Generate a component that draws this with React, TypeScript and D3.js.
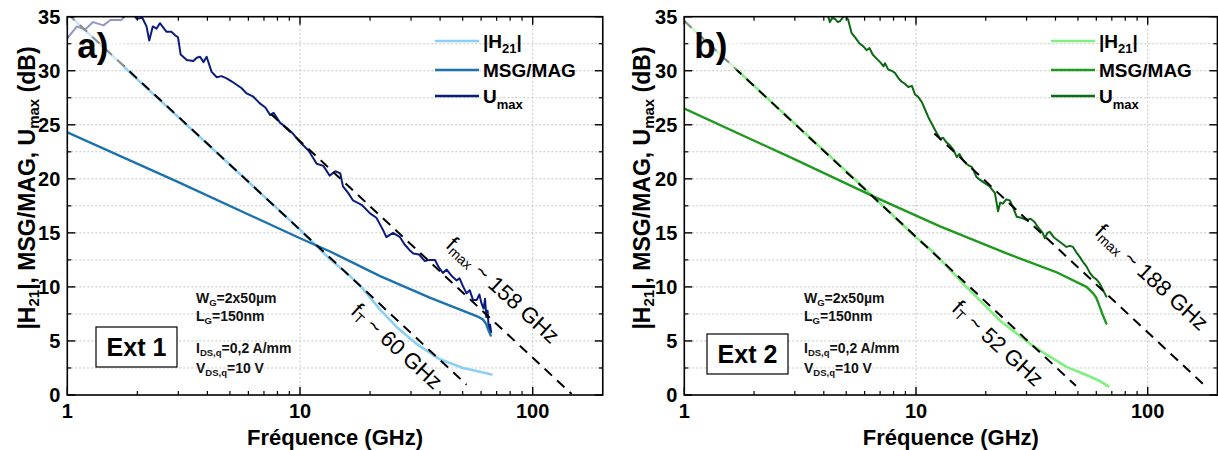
import React from "react";
import * as d3 from "d3";

type P = [number, number];

const xDomain: [number, number] = [1, 200];
const yDomain: [number, number] = [0, 35];
const xMajorTicks = [1, 10, 100];
const yMajorTicks = [0, 5, 10, 15, 20, 25, 30, 35];

// ---------- Panel a) Ext 1 ----------
const h21Left: P[] = [
  [1, 35.3], [2, 29.2], [5, 21.3], [10, 15.3], [13.4, 12.6], [16.4, 11.0], [18.7, 9.8],
  [22.1, 7.9], [26, 6.3], [31.8, 4.7], [39.9, 3.3], [50.2, 2.5], [58, 2.2], [66.6, 1.9],
];
const msgLeft: P[] = [
  [1, 24.3], [3, 19.7], [10, 14.5], [13.4, 13.3], [22.1, 11.0], [36.1, 9.0], [50, 7.8],
  [58.8, 7.2], [61, 7.0], [63, 6.6], [64.5, 6.0], [66, 5.5],
];
const umaxLeft: P[] = [
  [1, 33.0], [1.1, 34.1], [1.19, 33.8], [1.29, 34.5], [1.43, 34.2], [1.53, 34.7], [1.71, 34.7],
  [1.77, 35.1], [1.88, 35.5], [1.99, 34.8], [2.1, 34.9], [2.19, 34.1], [2.25, 32.8], [2.33, 34.1],
  [2.42, 33.9], [2.5, 34.4], [2.67, 33.6], [2.8, 33.6], [2.9, 33.3], [2.99, 33.1], [3.07, 31.5],
  [3.26, 31.0], [3.48, 30.9], [3.6, 31.2], [3.72, 31.3], [3.85, 30.8], [3.97, 31.3], [4.17, 29.9],
  [4.39, 29.4], [4.6, 29.5], [4.84, 29.3], [5.1, 29.0], [5.34, 28.7], [5.6, 28.4], [5.9, 27.9],
  [6.3, 27.6], [6.7, 27.0], [7.1, 26.6], [7.44, 25.9], [7.7, 26.1], [8.2, 25.2], [8.79, 24.7],
  [9.4, 24.1], [10, 23.4], [10.9, 22.6], [11.8, 21.4], [12.6, 21.2], [13.4, 20.3], [14.2, 20.7],
  [14.9, 20.5], [15.3, 19.3], [16.1, 18.7], [16.9, 18.0], [18.4, 17.6], [20, 16.8], [21.3, 16.4],
  [22.7, 15.3], [23.5, 14.6], [25.1, 15.0], [26.9, 14.6], [28.2, 13.9], [29.6, 13.4], [30.7, 13.1],
  [32.5, 13.0], [34.3, 12.4], [36.1, 12.5], [38, 12.5], [39.5, 11.8], [41.1, 11.3], [42.7, 11.6],
  [44.9, 11.0], [47.1, 10.6], [48.5, 10.8], [50.3, 10.0], [52, 9.4], [53.6, 9.7], [55.4, 8.8],
  [57.5, 8.8], [59, 9.3], [60.2, 8.5], [61.5, 8.0], [62.4, 8.9], [63.2, 7.2], [64, 7.8],
  [64.8, 6.0], [65.6, 6.5], [66.3, 5.8],
];
const ftLineLeft: P[] = [[1, 35.3], [52, 0.95]];
const fmaxLineLeft: P[] = [[7.5, 26.0], [147, 0.1]];

// ---------- Panel b) Ext 2 ----------
const h21Right: P[] = [
  [1, 34.6], [2, 28.6], [5, 20.7], [10, 14.6], [11.9, 13.2], [16.5, 10.0], [23, 6.9],
  [32.1, 4.5], [44.6, 2.6], [55, 1.8], [62, 1.3], [67.6, 0.8],
];
const msgRight: P[] = [
  [1, 26.5], [3, 21.8], [6.65, 18.3], [12.7, 15.6], [24.6, 13.1], [40, 11.4], [54.4, 10.0],
  [58.2, 9.4], [60, 9.0], [62, 8.2], [64, 7.4], [66.3, 6.6],
];
const umaxRight: P[] = [
  [4.0, 35.6], [4.18, 35.0], [4.25, 34.5], [4.35, 34.9], [4.47, 34.8], [4.6, 34.5], [4.7, 34.6],
  [4.82, 34.9], [4.94, 35.2], [5.1, 34.7], [5.27, 33.5], [5.5, 33.0], [5.72, 32.5], [5.9, 32.3],
  [6.12, 31.9], [6.3, 32.1], [6.5, 31.5], [6.78, 31.1], [7.0, 30.8], [7.24, 30.4], [7.35, 30.7],
  [7.59, 30.1], [7.85, 30.0], [8.11, 29.8], [8.4, 29.3], [8.66, 29.0], [8.95, 28.8], [9.26, 28.5],
  [9.6, 28.6], [9.9, 27.8], [10.2, 27.6], [10.6, 27.1], [11.0, 26.3], [11.3, 25.7], [11.7, 25.1],
  [12.1, 24.5], [12.7, 23.7], [13.1, 23.8], [13.5, 23.4], [14.0, 23.1], [14.5, 22.7], [15.0, 22.0],
  [15.4, 22.3], [15.7, 22.0], [16.0, 21.7], [16.5, 21.4], [17.0, 21.2], [17.4, 21.1], [17.7, 20.8],
  [18.2, 20.2], [18.9, 19.9], [19.8, 19.6], [20.8, 19.3], [21.3, 19.0], [21.9, 18.7], [22.6, 17.0],
  [23.1, 17.8], [23.7, 17.7], [24.5, 18.1], [25.4, 18.0], [26.3, 17.3], [27.2, 16.5], [28.5, 16.4],
  [29.9, 16.2], [31.2, 16.3], [32.5, 16.0], [33.4, 15.6], [34.3, 15.3], [35.2, 15.0], [36.0, 14.5],
  [36.9, 15.0], [37.8, 15.1], [39.3, 14.6], [41.0, 14.3], [42.8, 14.0], [44.6, 13.7], [46.1, 13.8],
  [47.6, 13.7], [49.2, 13.2], [50.8, 12.8], [52.6, 12.3], [54.4, 11.9], [56.3, 11.3], [58.2, 10.9],
  [60.1, 10.7], [62.1, 10.3], [64.2, 9.7], [66.3, 9.1],
];
const ftLineRight: P[] = [[1, 34.6], [49, 0.85]];
const fmaxLineRight: P[] = [[12, 24.2], [181, 0.65]];

const panels = [
  {
    id: "a",
    tag: "a)",
    ext: "Ext 1",
    x0: 67.3,
    decade: 232.7,
    colors: ["#8ccff5", "#1b72ad", "#0b1b7e"],
    h21: h21Left, msg: msgLeft, umax: umaxLeft,
    ftLine: ftLineLeft, fmaxLine: fmaxLineLeft,
    ftText: "60", fmaxText: "158",
    ftPos: [397, 346], fmaxPos: [503, 290],
    extBox: [96, 327, 81, 40],
    paramX: 196,
    legendX: 435,
    ylabX: 35,
    overlayW: 56,
  },
  {
    id: "b",
    tag: "b)",
    ext: "Ext 2",
    x0: 684.3,
    decade: 231.7,
    colors: ["#7ff07f", "#1f9a1f", "#0b6a12"],
    h21: h21Right, msg: msgRight, umax: umaxRight,
    ftLine: ftLineRight, fmaxLine: fmaxLineRight,
    ftText: "52", fmaxText: "188",
    ftPos: [998, 343], fmaxPos: [1152, 277],
    extBox: [707, 334, 81, 40],
    paramX: 804,
    legendX: 1051,
    ylabX: 650,
    overlayW: 56,
  },
];

const Y0 = 395;
const Y35 = 16.7;
const FONT = "Arial, 'Liberation Sans', Helvetica, sans-serif";

function Panel({ p }: { p: (typeof panels)[number] }) {
  const x = d3.scaleLog().domain(xDomain).range([p.x0, p.x0 + p.decade * Math.log10(200)]);
  const y = d3.scaleLinear().domain(yDomain).range([Y0, Y35]);
  const line = d3.line<P>().x((d) => x(d[0])).y((d) => y(d[1]));
  const xl = x(1), xr = x(200);
  const minorX: number[] = [];
  for (const dec of [1, 10, 100]) for (let k = 2; k <= 9; k++) if (dec * k < 200) minorX.push(dec * k);
  const gridY = d3.range(2.5, 35, 2.5);
  const minorY = d3.range(2.5, 35, 5);
  const clipId = "clip-" + p.id;
  const rot = 42.5;
  return (
    <g fontFamily={FONT}>
      <defs>
        <clipPath id={clipId}>
          <rect x={xl} y={Y35} width={xr - xl} height={Y0 - Y35} />
        </clipPath>
      </defs>
      {gridY.map((v) => (
        <line key={"gy" + v} x1={xl} x2={xr} y1={y(v)} y2={y(v)} stroke="#c4c4c4" strokeWidth={1} strokeDasharray="2,2" />
      ))}
      {[10, 100].map((v) => (
        <line key={"gx" + v} x1={x(v)} x2={x(v)} y1={Y35} y2={Y0} stroke="#c4c4c4" strokeWidth={1} strokeDasharray="2,2" />
      ))}
      <g clipPath={`url(#${clipId})`} fill="none" strokeLinejoin="round" strokeLinecap="round">
        <path d={line(p.h21) || ""} stroke={p.colors[0]} strokeWidth={2.6} />
        <path d={line(p.umax) || ""} stroke={p.colors[2]} strokeWidth={2} />
        <path d={line(p.msg) || ""} stroke={p.colors[1]} strokeWidth={2.4} />
        <path d={line(p.ftLine) || ""} stroke="#000" strokeWidth={2} strokeDasharray="10,7" strokeLinecap="butt" />
        <path d={line(p.fmaxLine) || ""} stroke="#000" strokeWidth={2} strokeDasharray="10,7" strokeLinecap="butt" />
      </g>
      <rect x={xl + 1} y={Y35 + 1} width={p.overlayW} height={52} fill="#fff" opacity={0.55} />
      <text x={xl + 10} y={58} fontSize={35} fontWeight="bold" fill="#000">{p.tag}</text>
      {[
        { c: p.colors[0], yy: 41, label: (<><tspan>|H</tspan><tspan fontSize={13} dy={5}>21</tspan><tspan dy={-5}>|</tspan></>) },
        { c: p.colors[1], yy: 70, label: (<tspan>MSG/MAG</tspan>) },
        { c: p.colors[2], yy: 96, label: (<><tspan>U</tspan><tspan fontSize={13} dy={6}>max</tspan></>) },
      ].map((it, i) => (
        <g key={"lg" + i}>
          <line x1={p.legendX} x2={p.legendX + 44} y1={it.yy} y2={it.yy} stroke={it.c} strokeWidth={2.6} />
          <text x={p.legendX + 48} y={it.yy + 6.5} fontSize={19} fontWeight="bold" fill="#000">{it.label}</text>
        </g>
      ))}
      <g fontSize={14} fontWeight="bold" fill="#111">
        <text x={p.paramX} y={303}>W<tspan fontSize={9.5} dy={3}>G</tspan><tspan dy={-3}>=2x50µm</tspan></text>
        <text x={p.paramX} y={321}>L<tspan fontSize={9.5} dy={3}>G</tspan><tspan dy={-3}>=150nm</tspan></text>
        <text x={p.paramX} y={353}>I<tspan fontSize={9.5} dy={3}>DS,q</tspan><tspan dy={-3}>=0,2 A/mm</tspan></text>
        <text x={p.paramX} y={373}>V<tspan fontSize={9.5} dy={3}>DS,q</tspan><tspan dy={-3}>=10 V</tspan></text>
      </g>
      <rect x={p.extBox[0]} y={p.extBox[1]} width={p.extBox[2]} height={p.extBox[3]} fill="#fff" stroke="#000" strokeWidth={1.2} />
      <text x={p.extBox[0] + p.extBox[2] / 2} y={p.extBox[1] + p.extBox[3] / 2 + 9} fontSize={25} fontWeight="bold" textAnchor="middle" fill="#000">{p.ext}</text>
      <text transform={`translate(${p.ftPos[0]},${p.ftPos[1]}) rotate(${rot})`} textAnchor="middle" dominantBaseline="central" fontSize={22} fill="#000">
        f<tspan fontSize={14} dy={5}>T</tspan><tspan dy={-5}> ~ {p.ftText} GHz</tspan>
      </text>
      <text transform={`translate(${p.fmaxPos[0]},${p.fmaxPos[1]}) rotate(${rot})`} textAnchor="middle" dominantBaseline="central" fontSize={22} fill="#000">
        f<tspan fontSize={14} dy={5}>max</tspan><tspan dy={-5}> ~ {p.fmaxText} GHz</tspan>
      </text>
      <rect x={xl} y={Y35} width={xr - xl} height={Y0 - Y35} fill="none" stroke="#000" strokeWidth={1.6} />
      {xMajorTicks.map((v) => (
        <g key={"xt" + v}>
          <line x1={x(v)} x2={x(v)} y1={Y0} y2={Y0 - 8} stroke="#000" strokeWidth={1.4} />
          <line x1={x(v)} x2={x(v)} y1={Y35} y2={Y35 + 8} stroke="#000" strokeWidth={1.4} />
          <text x={x(v)} y={418} fontSize={20} fontWeight="bold" textAnchor="middle" fill="#000">{v}</text>
        </g>
      ))}
      {minorX.map((v) => (
        <g key={"xm" + v}>
          <line x1={x(v)} x2={x(v)} y1={Y0} y2={Y0 - 4} stroke="#000" strokeWidth={1.2} />
          <line x1={x(v)} x2={x(v)} y1={Y35} y2={Y35 + 4} stroke="#000" strokeWidth={1.2} />
        </g>
      ))}
      {yMajorTicks.map((v) => (
        <g key={"yt" + v}>
          <line x1={xl} x2={xl + 8} y1={y(v)} y2={y(v)} stroke="#000" strokeWidth={1.4} />
          <line x1={xr} x2={xr - 8} y1={y(v)} y2={y(v)} stroke="#000" strokeWidth={1.4} />
          <text x={xl - 7} y={y(v) + 7} fontSize={20} fontWeight="bold" textAnchor="end" fill="#000">{v}</text>
        </g>
      ))}
      {minorY.map((v) => (
        <g key={"ym" + v}>
          <line x1={xl} x2={xl + 4} y1={y(v)} y2={y(v)} stroke="#000" strokeWidth={1.2} />
          <line x1={xr} x2={xr - 4} y1={y(v)} y2={y(v)} stroke="#000" strokeWidth={1.2} />
        </g>
      ))}
      <text x={(xl + xr) / 2} y={445} fontSize={22} fontWeight="bold" textAnchor="middle" fill="#000">Fréquence (GHz)</text>
      <text transform={`translate(${p.ylabX},188) rotate(-90)`} textAnchor="middle" fontSize={23} fontWeight="bold" fill="#000">
        |H<tspan fontSize={15} dy={4}>21</tspan><tspan dy={-4}>|, MSG/MAG, U</tspan><tspan fontSize={15} dy={4}>max</tspan><tspan dy={-4}> (dB)</tspan>
      </text>
    </g>
  );
}

export default function App() {
  return (
    <svg width={1218} height={450} style={{ position: "absolute", left: 0, top: 0, background: "#fff" }}>
      <rect x={0} y={0} width={1218} height={450} fill="#fff" />
      {panels.map((p) => (
        <Panel key={p.id} p={p} />
      ))}
    </svg>
  );
}
